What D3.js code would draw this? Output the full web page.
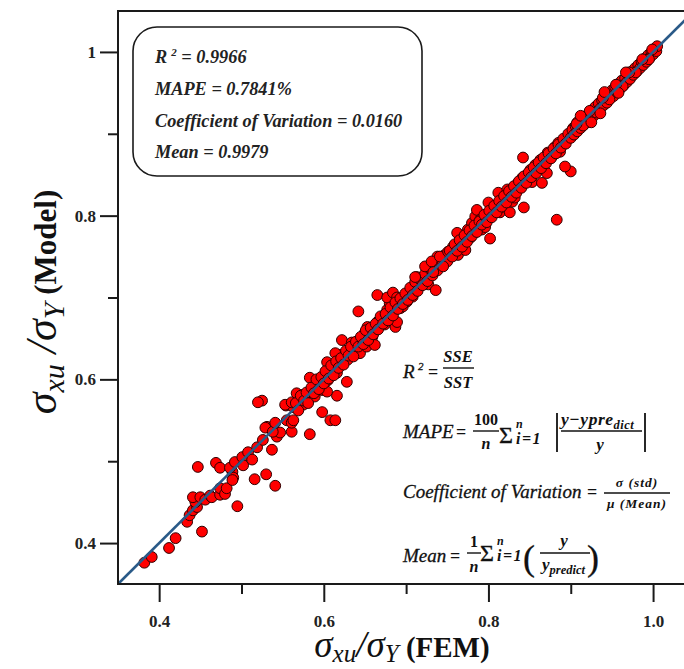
<!DOCTYPE html>
<html><head><meta charset="utf-8">
<script src="https://cdn.jsdelivr.net/npm/d3@7"></script>
<style>
html,body{margin:0;padding:0;background:#fff;}
svg{display:block;}
</style></head>
<body>
<svg id="chart" width="684" height="669"></svg>
<script>
// ---- data: [FEM, Model] pairs ----
const outlierPoints = [
  [0.883,0.795],[0.900,0.854],[0.893,0.860],[0.843,0.810],[0.802,0.772],[0.762,0.779],
  [0.842,0.871],[0.642,0.683],[0.665,0.703],[0.628,0.597],[0.616,0.580],[0.598,0.560],
  [0.608,0.550],[0.614,0.550],[0.583,0.533],[0.525,0.574],[0.447,0.493],[0.520,0.572],
  [0.452,0.414],[0.495,0.445],[0.412,0.394],[0.420,0.406],[0.382,0.376],[0.391,0.383],
  [0.516,0.478],[0.530,0.484],[0.541,0.470],[0.469,0.498],[0.474,0.492],[0.554,0.568]
];
const lowerBandPoints = [
  [0.434,0.426],[0.437,0.434],[0.441,0.440],[0.446,0.444],[0.444,0.450],[0.441,0.456],
  [0.450,0.456],[0.456,0.453],[0.462,0.458],[0.464,0.456],[0.474,0.459],[0.474,0.467],
  [0.480,0.460],[0.482,0.467],[0.489,0.487],[0.490,0.480],[0.489,0.477],[0.486,0.492],
  [0.492,0.499],[0.501,0.505],[0.502,0.495],[0.508,0.511],[0.513,0.502],[0.519,0.517],
  [0.526,0.526],[0.531,0.542],[0.538,0.542],[0.537,0.514],[0.543,0.530],[0.547,0.535],
  [0.555,0.550],[0.561,0.536],[0.561,0.547],[0.563,0.566],[0.529,0.541],[0.538,0.536],
  [0.541,0.547],[0.553,0.569],[0.561,0.572],[0.563,0.550],[0.567,0.583],[0.574,0.581],
  [0.575,0.569]
];
const midBandPoints = [
  [0.583,0.602],[0.589,0.579],[0.593,0.593],[0.598,0.587],[0.604,0.585],[0.605,0.599],
  [0.604,0.621],[0.610,0.609],[0.614,0.618],[0.616,0.608],[0.620,0.630],[0.614,0.632],
  [0.622,0.648],[0.626,0.628],[0.629,0.624],[0.634,0.645],[0.638,0.636],[0.644,0.632],
  [0.644,0.648],[0.650,0.657],[0.653,0.664],[0.659,0.652],[0.662,0.660],[0.665,0.670],
  [0.671,0.675],[0.674,0.667],[0.677,0.685],[0.683,0.679],[0.687,0.664],[0.689,0.670],
  [0.680,0.693],[0.677,0.700],[0.684,0.706],[0.689,0.700],[0.693,0.687],[0.696,0.689],
  [0.701,0.695],[0.708,0.701],[0.711,0.713],[0.713,0.725],[0.721,0.722],[0.725,0.730],
  [0.732,0.738],[0.735,0.742],[0.738,0.750],[0.727,0.716],[0.652,0.640],[0.662,0.642],
  [0.736,0.709],
  [0.566,0.571],[0.569,0.562],[0.572,0.580],[0.576,0.574],[0.579,0.584],[0.581,0.571],
  [0.585,0.590],[0.588,0.583],[0.591,0.600],[0.594,0.588],[0.597,0.603],[0.600,0.595],
  [0.602,0.610],[0.606,0.601],[0.609,0.617],[0.612,0.605],[0.615,0.622],[0.618,0.614],
  [0.621,0.626],[0.624,0.618],[0.627,0.635],[0.630,0.629],[0.633,0.640],[0.636,0.628],
  [0.639,0.646],[0.642,0.640],[0.645,0.652],[0.648,0.643],[0.651,0.660],[0.654,0.648],
  [0.657,0.663],[0.660,0.655],[0.663,0.668],[0.666,0.661],[0.669,0.677],[0.672,0.668],
  [0.675,0.680],[0.678,0.672],[0.681,0.688],[0.684,0.678],[0.687,0.694],[0.690,0.686],
  [0.693,0.699],[0.696,0.692],[0.699,0.705],[0.702,0.697],[0.705,0.712],[0.708,0.703],
  [0.711,0.719],[0.714,0.708],[0.717,0.722],[0.720,0.715],[0.723,0.729],[0.726,0.720],
  [0.729,0.735],[0.732,0.727],[0.735,0.737],[0.738,0.733],[0.741,0.747],[0.744,0.740],
  [0.747,0.752],[0.750,0.744]
];
const upperBandPoints = [
  [0.711,0.725],[0.723,0.738],[0.731,0.744],[0.733,0.731],[0.741,0.750],[0.745,0.738],
  [0.751,0.756],[0.757,0.762],[0.763,0.752],[0.769,0.771],[0.772,0.758],[0.775,0.783],
  [0.778,0.773],[0.780,0.791],[0.784,0.799],[0.786,0.807],[0.790,0.795],[0.792,0.783],
  [0.796,0.786],[0.800,0.816],[0.806,0.807],[0.812,0.828],[0.814,0.804],[0.818,0.811],
  [0.823,0.832],[0.826,0.804],[0.829,0.817],[0.832,0.822],[0.836,0.840],[0.841,0.846],
  [0.847,0.850],[0.851,0.856],[0.853,0.841],[0.857,0.862],[0.863,0.868],[0.865,0.840],
  [0.866,0.859],[0.871,0.852],[0.872,0.877],[0.877,0.872],[0.881,0.884],[0.885,0.889],
  [0.887,0.878],[0.893,0.893],[0.899,0.896],[0.903,0.907],[0.908,0.914],
  [0.753,0.757],[0.756,0.750],[0.759,0.765],[0.762,0.757],[0.765,0.770],[0.768,0.762],
  [0.771,0.776],[0.774,0.768],[0.777,0.782],[0.780,0.775],[0.783,0.788],[0.786,0.780],
  [0.789,0.793],[0.792,0.789],[0.795,0.801],[0.798,0.792],[0.801,0.806],[0.804,0.798],
  [0.807,0.812],[0.810,0.804],[0.813,0.818],[0.816,0.811],[0.819,0.824],[0.822,0.816],
  [0.825,0.830],[0.828,0.823],[0.831,0.836],[0.834,0.828],[0.837,0.842],[0.840,0.834],
  [0.843,0.848],[0.846,0.840],[0.849,0.853],[0.852,0.847],[0.855,0.859],[0.858,0.852],
  [0.861,0.865],[0.864,0.858],[0.867,0.871],[0.870,0.864],[0.873,0.876],[0.876,0.870],
  [0.879,0.882],[0.882,0.876],[0.885,0.887],[0.888,0.883],[0.891,0.894],[0.894,0.888],
  [0.897,0.900],[0.900,0.895]
];
const topBandPoints = [
  [0.902,0.905],[0.904,0.899],[0.906,0.909],[0.908,0.903],[0.910,0.913],[0.912,0.907],
  [0.914,0.917],[0.916,0.911],[0.918,0.921],[0.920,0.914],[0.922,0.925],[0.924,0.919],
  [0.926,0.929],[0.928,0.922],[0.930,0.933],[0.932,0.927],[0.934,0.937],[0.936,0.931],
  [0.938,0.941],[0.940,0.935],[0.942,0.945],[0.944,0.938],[0.946,0.949],[0.948,0.943],
  [0.950,0.953],[0.952,0.946],[0.954,0.957],[0.956,0.951],[0.958,0.961],[0.960,0.955],
  [0.962,0.965],[0.964,0.959],[0.966,0.968],[0.968,0.963],[0.970,0.972],[0.972,0.967],
  [0.974,0.976],[0.976,0.972],[0.978,0.980],[0.980,0.976],[0.982,0.984],[0.984,0.980],
  [0.986,0.988],[0.988,0.984],[0.990,0.992],[0.992,0.988],[0.994,0.996],[0.996,0.993],
  [0.998,1.000],[1.000,0.997],[1.002,1.004],[1.004,1.001],[1.005,1.007],[0.999,1.003],
  [0.995,0.991],[0.987,0.991],[0.979,0.975],[0.971,0.975],[0.963,0.958],[0.955,0.960],
  [0.947,0.942],[0.939,0.944],[0.931,0.926],[0.923,0.928],[0.915,0.910],[0.907,0.912],
  [0.925,0.914],[0.941,0.951],[0.958,0.950],[0.967,0.975],[0.912,0.922],[0.936,0.925]
];
const xTickValues = [0.4, 0.6, 0.8, 1.0];
const xTickLabels = ["0.4", "0.6", "0.8", "1.0"];
const yTickValues = [0.4, 0.6, 0.8, 1.0];
const yTickLabels = ["0.4", "0.6", "0.8", "1"];
const minorTickValues = [0.5, 0.7, 0.9];
const statLines = [
  ["MAPE = 0.7841%"],
  ["Coefficient of Variation = 0.0160"],
  ["Mean = 0.9979"]
];
const r2Value = "0.9966";

// ---- layout ----
const svg = d3.select("#chart");
const plotLeft = 118, plotTop = 11, plotBottom = 584, plotRight = 686;
const x = d3.scaleLinear().domain([0.35, 1.04]).range([plotLeft, plotRight]);
const y = d3.scaleLinear().domain([0.35, 1.05]).range([plotBottom, plotTop]);
const serif = "'Liberation Serif', 'DejaVu Serif', serif";

const allPoints = [].concat(outlierPoints, lowerBandPoints, midBandPoints, upperBandPoints, topBandPoints);

// points
svg.append("g").selectAll("circle").data(allPoints).join("circle")
  .attr("cx", d => x(d[0])).attr("cy", d => y(d[1])).attr("r", 5.4)
  .attr("fill", "#ff0000").attr("stroke", "#300000").attr("stroke-width", 1);

// 1:1 line
svg.append("line")
  .attr("x1", x(0.35)).attr("y1", y(0.35)).attr("x2", x(1.05)).attr("y2", y(1.05))
  .attr("stroke", "#2a5a88").attr("stroke-width", 2.6);

// frame
svg.append("rect").attr("x", plotLeft).attr("y", plotTop).attr("width", plotRight + 10 - plotLeft).attr("height", plotBottom - plotTop)
  .attr("fill", "none").attr("stroke", "#1a1a1a").attr("stroke-width", 2);

// axes
function styleAxis(g) {
  g.select(".domain").remove();
  g.selectAll(".tick line").attr("stroke", "#1a1a1a").attr("stroke-width", 2);
  g.selectAll(".tick text").attr("font-family", serif).attr("font-weight", "bold")
    .attr("font-size", 17).attr("fill", "#222");
}
svg.append("g").attr("transform", `translate(0,${plotBottom})`)
  .call(d3.axisBottom(x).tickValues(xTickValues).tickSize(18).tickPadding(13)
    .tickFormat((d, i) => xTickLabels[i])).call(styleAxis);
svg.append("g").attr("transform", `translate(0,${plotBottom})`)
  .call(d3.axisBottom(x).tickValues(minorTickValues).tickSize(10).tickFormat("")).call(styleAxis);
svg.append("g").attr("transform", `translate(${plotLeft},0)`)
  .call(d3.axisLeft(y).tickValues(yTickValues).tickSize(18).tickPadding(4)
    .tickFormat((d, i) => yTickLabels[i])).call(styleAxis);
svg.append("g").attr("transform", `translate(${plotLeft},0)`)
  .call(d3.axisLeft(y).tickValues(minorTickValues).tickSize(10).tickFormat("")).call(styleAxis);

// axis titles
function sigmaLabel(t, tail, big, sub, boldSize, shift) {
  t.append("tspan").attr("font-style", "italic").attr("font-size", big).text("σ");
  t.append("tspan").attr("font-style", "italic").attr("font-size", sub).attr("dy", shift).text("xu");
  t.append("tspan").attr("font-style", "italic").attr("font-size", big).attr("dy", -shift).text(tail[0]);
  t.append("tspan").attr("font-style", "italic").attr("font-size", sub).attr("dy", shift).text("Y");
  t.append("tspan").attr("font-weight", "bold").attr("font-size", boldSize).attr("dy", -shift).text(tail[1]);
}
const xt = svg.append("text").attr("x", 402).attr("y", 657).attr("text-anchor", "middle")
  .attr("font-family", serif).attr("fill", "#111");
sigmaLabel(xt, ["/σ", " (FEM)"], 37, 25, 29, 5);
const yt = svg.append("text").attr("transform", "translate(56,302) rotate(-90)").attr("text-anchor", "middle")
  .attr("font-family", serif).attr("fill", "#111");
sigmaLabel(yt, [" /σ", " (Model)"], 44, 30, 31, 8);

// stats box
svg.append("rect").attr("x", 133).attr("y", 27).attr("width", 289).attr("height", 149)
  .attr("rx", 24).attr("ry", 24).attr("fill", "#fff").attr("stroke", "#1a1a1a").attr("stroke-width", 1.6);
const r2t = svg.append("text").attr("x", 155).attr("y", 63).attr("font-family", serif)
  .attr("font-style", "italic").attr("font-weight", "bold").attr("font-size", 18.3).attr("fill", "#222");
r2t.append("tspan").text("R");
r2t.append("tspan").attr("font-size", 11).attr("dx", 4).attr("dy", -7).text("2");
r2t.append("tspan").attr("dy", 7).text(" = " + r2Value);
statLines.forEach((s, i) => {
  svg.append("text").attr("x", 155).attr("y", 95 + i * 31.5).attr("font-family", serif)
    .attr("font-style", "italic").attr("font-weight", "bold").attr("font-size", 18.3).attr("fill", "#222").text(s[0]);
});

// formulas
const fg = svg.append("g").attr("font-family", serif).attr("fill", "#111");
function txt(xp, yp, s, opts = {}) {
  const t = fg.append("text").attr("x", xp).attr("y", yp).attr("font-size", opts.size || 19)
    .attr("font-style", opts.italic === false ? "normal" : "italic")
    .attr("font-weight", opts.bold ? "bold" : "normal")
    .attr("text-anchor", opts.anchor || "start").text(s);
  if (opts.ls) t.attr("letter-spacing", opts.ls);
  if (!opts.bold) t.attr("stroke", "#111").attr("stroke-width", 0.3);
  return t;
}
function hline(x1, x2, yy, w = 1.4) {
  fg.append("line").attr("x1", x1).attr("x2", x2).attr("y1", yy).attr("y2", yy)
    .attr("stroke", "#111").attr("stroke-width", w);
}
// R^2 = SSE/SST
txt(403, 378, "R");
txt(418, 370, "2", {size: 11});
txt(428, 378, "=", {italic: false, bold: true, size: 18});
txt(458, 362, "SSE", {bold: true, anchor: "middle", size: 16.5});
hline(443, 474, 368);
txt(458, 388, "SST", {bold: true, anchor: "middle", size: 16.5});
// MAPE
txt(403, 438, "MAPE");
txt(456, 438, "=", {italic: false, bold: true, size: 18});
txt(486, 425, "100", {bold: true, italic: false, anchor: "middle", size: 16});
hline(473, 499, 431);
txt(486, 449, "n", {bold: true, anchor: "middle", size: 16});
txt(499, 443, "Σ", {italic: false, size: 24});
txt(516, 428, "n", {bold: true, size: 12});
txt(516, 444, "i=1", {bold: true, size: 16, ls: 1.5});
fg.append("line").attr("x1", 557).attr("x2", 557).attr("y1", 413).attr("y2", 452).attr("stroke", "#111").attr("stroke-width", 1.8);
fg.append("line").attr("x1", 645).attr("x2", 645).attr("y1", 413).attr("y2", 452).attr("stroke", "#111").attr("stroke-width", 1.8);
const num = txt(561, 425, "y−ypre", {bold: true, size: 17.5, ls: 0.5});
num.append("tspan").attr("font-size", 12.5).attr("dy", 4).text("dict");
hline(561, 642, 431);
txt(600, 450, "y", {bold: true, anchor: "middle", size: 17});
// Coefficient of Variation
txt(403, 498, "Coefficient of Variation");
txt(587, 498, "=", {italic: false, bold: true, size: 18});
txt(637, 487, "σ (std)", {bold: true, anchor: "middle", size: 13.5, ls: 1});
hline(604, 670, 493);
txt(637, 508, "μ (Mean)", {bold: true, anchor: "middle", size: 13.5, ls: 1});
// Mean
txt(403, 562, "Mean");
txt(450, 562, "=", {italic: false, bold: true, size: 18});
txt(474, 547, "1", {bold: true, italic: false, anchor: "middle", size: 16});
hline(467, 481, 553);
txt(474, 572, "n", {bold: true, anchor: "middle", size: 16});
txt(480, 561, "Σ", {italic: false, size: 24});
txt(497, 545, "n", {bold: true, size: 12});
txt(497, 561, "i=1", {bold: true, size: 16, ls: 1.5});
txt(523, 570, "(", {italic: false, size: 36});
txt(587, 570, ")", {italic: false, size: 36});
txt(564, 546, "y", {bold: true, anchor: "middle", size: 17});
hline(540, 590, 553);
const den = txt(542, 570, "y", {bold: true, size: 17});
den.append("tspan").attr("font-size", 12.5).attr("dy", 4).text("predict");
</script>
</body></html>
